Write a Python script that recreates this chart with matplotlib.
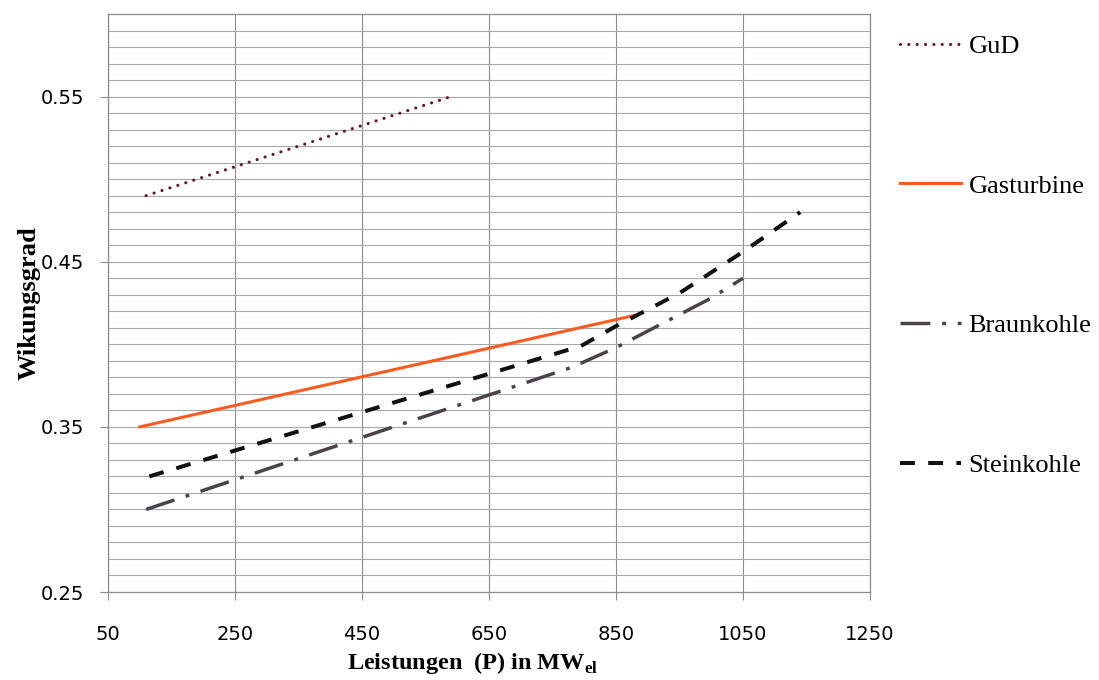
import matplotlib.pyplot as plt
import numpy as np

#%% data: efficiency vs. electrical power (P in MW_el)
gud_p = [110, 590]
gud_eta = [0.49, 0.55]

gas_p = [100, 885]
gas_eta = [0.35, 0.418]

braun_p = [110, 780, 850, 920, 1000, 1050]
braun_eta = [0.30, 0.386, 0.398, 0.412, 0.428, 0.44]

stein_p = [115, 795, 850, 950, 1050, 1140]
stein_eta = [0.32, 0.399, 0.411, 0.431, 0.456, 0.48]

x_ticks = [50, 250, 450, 650, 850, 1050, 1250]
y_ticks = [0.25, 0.35, 0.45, 0.55]
y_grid = np.arange(0.25, 0.6001, 0.01)

serif = 'Liberation Serif'

#%% figure
fig = plt.figure(figsize=(10.99, 6.8), dpi=100)
ax = fig.add_axes([0.0983, 0.1294, 0.6933, 0.8500])

ax.plot(gud_p, gud_eta, color='#6a1530', lw=2.3, linestyle=(0, (0.01, 2.6)),
        dash_capstyle='round', label='GuD')
ax.plot(gas_p, gas_eta, color='#ff5a1f', lw=2.2, label='Gasturbine')
ax.plot(braun_p, braun_eta, color='#4a4448', lw=2.5,
        linestyle=(0, (8.6, 3.4, 1.1, 3.4)), label='Braunkohle')
ax.plot(stein_p, stein_eta, color='#111111', lw=2.9,
        linestyle=(0, (3.7, 3.3)), label='Steinkohle')

# axes, ticks and grid
ax.set_xlim(50, 1250)
ax.set_ylim(0.25, 0.60)
ax.set_xticks(x_ticks)
ax.set_yticks(y_ticks)
ax.set_yticklabels([f'{v:.2f}' for v in y_ticks])
ax.set_yticks(y_grid, minor=True)
ax.tick_params(which='major', direction='out', length=6, width=0.8,
               color='#8c8c8c', labelsize=14)
ax.tick_params(axis='x', pad=18)
ax.tick_params(axis='y', pad=11)
ax.tick_params(which='minor', length=0)
ax.grid(axis='y', which='both', color='#a8a8a8', lw=0.8)
ax.grid(axis='x', which='major', color='#8c8c8c', lw=0.8)
ax.set_axisbelow(True)
for sp in ax.spines.values():
    sp.set_color('#8c8c8c')
    sp.set_linewidth(0.9)

ax.set_xlabel(r'Leistungen  (P) in MW$_\mathregular{el}$', fontfamily=serif,
              fontweight='bold', fontsize=17.5)
ax.xaxis.set_label_coords(0.478, -0.100)
ax.set_ylabel('Wikungsgrad', fontfamily=serif, fontweight='bold', fontsize=19)
ax.yaxis.set_label_coords(-0.089, 0.5)

ax.legend(loc='upper left', bbox_to_anchor=(0.819, 0.949),
          bbox_transform=fig.transFigure, frameon=False,
          prop={'family': serif, 'size': 19}, handlelength=2.3,
          handletextpad=0.3, labelspacing=4.40, borderpad=0, borderaxespad=0)

fig.savefig('out.png', dpi=100, facecolor='white')
